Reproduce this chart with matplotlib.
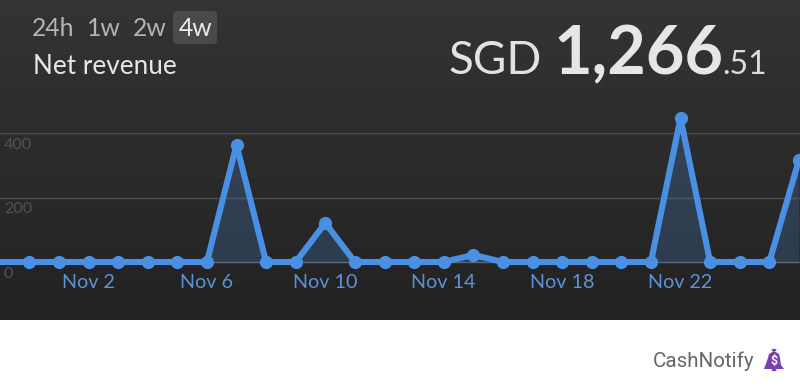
"""Net revenue card: daily revenue over four weeks on a dark panel."""
import matplotlib.pyplot as plt
import numpy as np
from matplotlib.patches import Circle, FancyBboxPatch, Polygon
from matplotlib.transforms import IdentityTransform


days = list(range(0, 27))
revenue = [0, 0, 0, 0, 0, 0, 0, 363, 0, 0, 121, 0, 0, 0, 0, 22, 0, 0, 0, 0, 0, 0, 446, 0, 0, 0, 316]
x_ticks = [2, 6, 10, 14, 18, 22]
x_labels = ['Nov 2', 'Nov 6', 'Nov 10', 'Nov 14', 'Nov 18', 'Nov 22']
y_ticks = [0, 200, 400]
ranges = ['24h', '1w', '2w', '4w']
range_x = [32, 87, 133, 179]

W, H = 800, 387
PANEL_BOTTOM = 320
BLUE = '#4a90e2'


def px(x, y):
    return x / W, 1 - y / H


def main():
    fig = plt.figure(figsize=(W / 100, H / 100), dpi=100, facecolor='white')

    # panel gradient
    ax_bg = fig.add_axes([0, 1 - PANEL_BOTTOM / H, 1, PANEL_BOTTOM / H])
    grad = np.linspace(0, 1, 256).reshape(-1, 1)
    top, bottom = np.array([0x34, 0x34, 0x34]), np.array([0x22, 0x22, 0x22])
    ax_bg.imshow((top + (bottom - top) * grad[..., None]) / 255, aspect='auto')
    ax_bg.axis('off')

    # px(x) = 88.5 + (day - 2) * 29.6, px(y) = 262 - value * 0.3225
    ax = fig.add_axes([0, 1 - PANEL_BOTTOM / H, 1, PANEL_BOTTOM / H], facecolor='none')
    ax.set_xlim(2 - 88.5 / 29.6, 2 + (800 - 88.5) / 29.6)
    ax.set_ylim(-(PANEL_BOTTOM - 262) / 0.3225, 262 / 0.3225)

    for v in y_ticks:
        ax.axhline(v, color='#4c4c4c' if v else '#5f6670', lw=1, zorder=1)
    ax.fill_between(days, revenue, 0, color=BLUE, alpha=0.22, lw=0, zorder=2)
    ax.plot(days, revenue, color=BLUE, lw=4.4, marker='o', ms=8.5, zorder=3)
    ax.plot([ax.get_xlim()[0], days[0]], [0, 0], color=BLUE, lw=4.4, zorder=3)

    ax.set_xticks(x_ticks, x_labels, fontfamily='Lato', fontsize=14.2, color='#5b93d6')
    ax.tick_params(axis='x', length=0, pad=-33)
    ax.set_yticks([])
    for v in y_ticks:
        ax.annotate(str(v), (0, v), xycoords=('axes fraction', 'data'), xytext=(4, -12),
                    textcoords='offset pixels', fontfamily='Lato', fontsize=11.5, color='#525252',
                    va='center', ha='left', zorder=1)
    for s in ax.spines.values():
        s.set_visible(False)

    # range selector
    fig.add_artist(FancyBboxPatch((173, H - 44), 44, 33, boxstyle='round,pad=0,rounding_size=4', fc='#4a4a4a',
                                  ec='none', transform=IdentityTransform()))
    for name, x in zip(ranges, range_x):
        fig.text(*px(x, 28.5), name, fontfamily='Lato', fontsize=17.8, va='center',
                 color='#ececec' if name == '4w' else '#b4b4b4')
    fig.text(*px(33, 66), 'Net revenue', fontfamily='Lato', fontsize=18.8, va='center', color='#e6e6e6')

    # total
    fig.text(*px(448.5, 74), 'SGD', fontfamily='Lato', fontsize=33, color='#e2e2e2', va='baseline')
    fig.text(*px(554, 74), '1,266', fontfamily='Lato', fontweight='bold', fontsize=48, color='#e6e6e6', va='baseline')
    fig.text(*px(722, 74), '.51', fontfamily='Lato', fontsize=23, color='#dcdcdc', va='baseline')

    # footer
    fig.text(*px(653, 361), 'CashNotify', fontfamily='Roboto', fontsize=14.8, color='#666666', va='center')
    bell = Polygon([px(768, 358), px(769, 354), px(774, 351), px(779, 354), px(780, 358), px(781, 365), px(784, 369),
                    px(764, 369)],
                   closed=True, fc='#7a3fb0', ec='none', transform=fig.transFigure)
    fig.add_artist(bell)
    fig.add_artist(Circle(px(774, 350), 2.5 / W, fc='#7a3fb0', ec='none', transform=fig.transFigure))
    fig.add_artist(Circle(px(774, 370), 2.5 / W, fc='#7a3fb0', ec='none', transform=fig.transFigure))
    fig.text(*px(774, 361), '$', fontfamily='Roboto', fontweight='bold', fontsize=9, color='white',
             ha='center', va='center')

    fig.savefig('out.png', dpi=100, facecolor='white')


if __name__ == '__main__':
    main()
